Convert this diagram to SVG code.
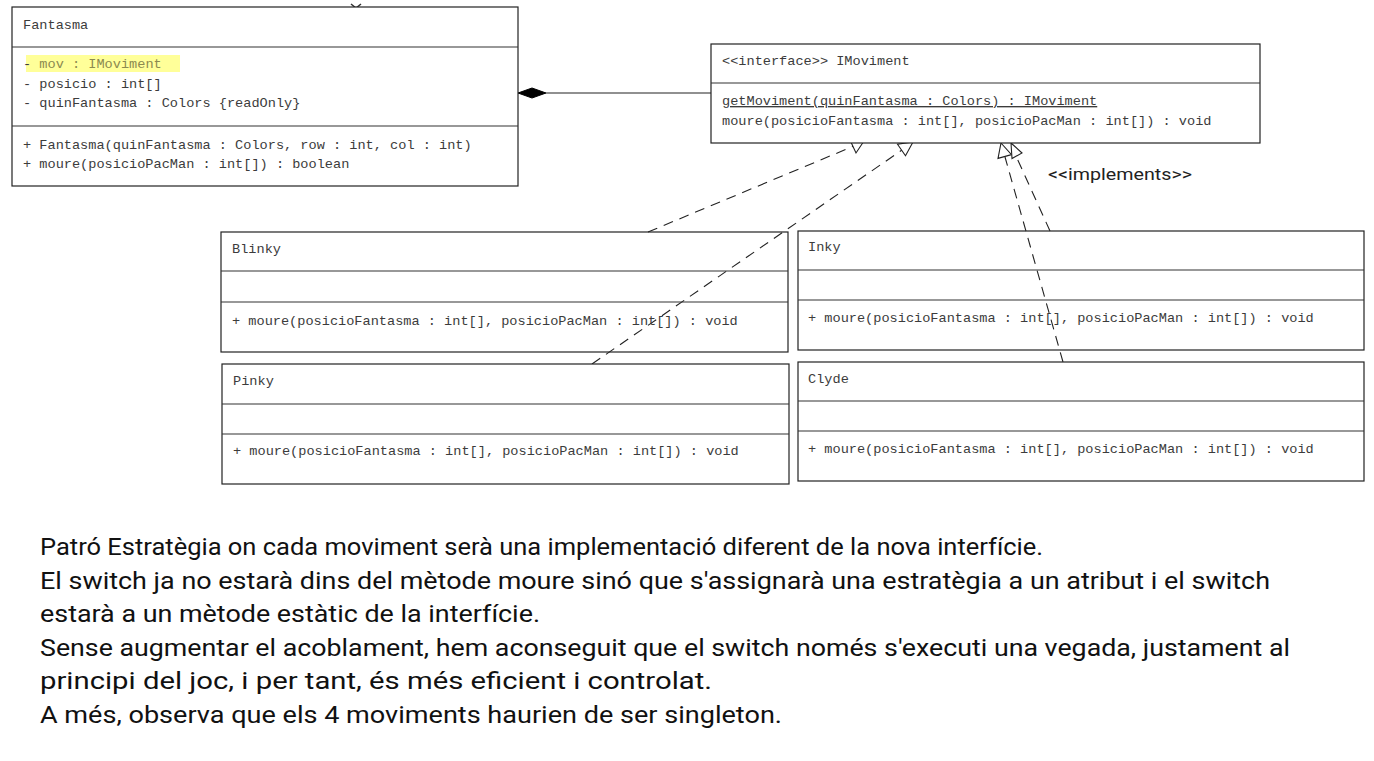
<svg xmlns="http://www.w3.org/2000/svg" width="1374" height="761" viewBox="0 0 1374 761">
<style>
.box{fill:#fff;stroke:#222;stroke-width:1.2}
.div{stroke:#333;stroke-width:1.2}
.m{font-family:"Liberation Mono","Courier New",monospace;font-size:13.6px;fill:#3c3c3c}
.conn{fill:none;stroke:#222;stroke-width:1.1}
.dash{stroke-dasharray:10,7}
.tri{fill:#fff;stroke:#222;stroke-width:1.1}
.note{font-family:Roboto,"Liberation Sans",sans-serif;font-size:24px;fill:#111}
.lbl{font-family:Roboto,"Liberation Sans",sans-serif;font-size:17px;fill:#222}
</style>
<rect width="1374" height="761" fill="#fff"/>
<g id="connectors">
<line class="conn" x1="546" y1="93" x2="711" y2="93"/>
<polygon points="518,93 532,88 546,93 532,98" fill="#000" stroke="#000"/>
<line class="conn dash" x1="648" y1="232" x2="854" y2="146"/>
<polygon class="tri" points="864,141 856,153 850,140"/>
<line class="conn dash" x1="592" y1="364" x2="902" y2="150"/>
<polygon class="tri" points="913,142 905.5,155.8 897.5,144.2"/>
<line class="conn dash" x1="1063" y1="362" x2="1005" y2="157"/>
<polygon class="tri" points="1001,143 1011.5,154.6 998,158.4"/>
<line class="conn dash" x1="1050" y1="231" x2="1016" y2="156"/>
<polygon class="tri" points="1011,143 1022,153 1012,158.6"/>
<path d="M351,4 L356,8 L361,4" fill="none" stroke="#333" stroke-width="1.5"/>
<text class="lbl" x="1048" y="180" textLength="144" lengthAdjust="spacingAndGlyphs">&lt;&lt;implements&gt;&gt;</text>
</g>
<g id="Fantasma">
<rect class="box" x="12" y="7" width="506" height="179"/>
<line class="div" x1="12" y1="47" x2="518" y2="47"/>
<line class="div" x1="12" y1="126" x2="518" y2="126"/>
<text class="m" x="23" y="29">Fantasma</text>
<rect x="26" y="55" width="154" height="17" fill="#ffff99"/>
<text class="m" x="23" y="68">-<tspan fill="#8c8a50"> mov : IMoviment</tspan></text>
<text class="m" x="23" y="88">- posicio : int[]</text>
<text class="m" x="23" y="107">- quinFantasma : Colors {readOnly}</text>
<text class="m" x="23" y="149">+ Fantasma(quinFantasma : Colors, row : int, col : int)</text>
<text class="m" x="23" y="168">+ moure(posicioPacMan : int[]) : boolean</text>
</g>
<g id="IMoviment">
<rect class="box" x="711" y="44" width="549" height="99"/>
<line class="div" x1="711" y1="83" x2="1260" y2="83"/>
<text class="m" x="722" y="65">&lt;&lt;interface&gt;&gt; IMoviment</text>
<text class="m" x="722" y="105" text-decoration="underline">getMoviment(quinFantasma : Colors) : IMoviment</text>
<text class="m" x="722" y="125">moure(posicioFantasma : int[], posicioPacMan : int[]) : void</text>
</g>
<g id="Blinky">
<rect class="box" x="221" y="232" width="567" height="120" fill-opacity="0"/>
<line class="div" x1="221" y1="271" x2="788" y2="271"/>
<line class="div" x1="221" y1="302" x2="788" y2="302"/>
<text class="m" x="232" y="253">Blinky</text>
<text class="m" x="232" y="325">+ moure(posicioFantasma : int[], posicioPacMan : int[]) : void</text>
</g>
<g id="Pinky">
<rect class="box" x="222" y="364" width="567" height="120"/>
<line class="div" x1="222" y1="404" x2="789" y2="404"/>
<line class="div" x1="222" y1="434" x2="789" y2="434"/>
<text class="m" x="233" y="385">Pinky</text>
<text class="m" x="233" y="455">+ moure(posicioFantasma : int[], posicioPacMan : int[]) : void</text>
</g>
<g id="Inky">
<rect class="box" x="798" y="231" width="566" height="119" fill-opacity="0"/>
<line class="div" x1="798" y1="270" x2="1364" y2="270"/>
<line class="div" x1="798" y1="300" x2="1364" y2="300"/>
<text class="m" x="808" y="251">Inky</text>
<text class="m" x="808" y="322">+ moure(posicioFantasma : int[], posicioPacMan : int[]) : void</text>
</g>
<g id="Clyde">
<rect class="box" x="798" y="362" width="566" height="119"/>
<line class="div" x1="798" y1="401" x2="1364" y2="401"/>
<line class="div" x1="798" y1="431" x2="1364" y2="431"/>
<text class="m" x="808" y="383">Clyde</text>
<text class="m" x="808" y="453">+ moure(posicioFantasma : int[], posicioPacMan : int[]) : void</text>
</g>
<g id="notes">
<text class="note" x="40" y="555" textLength="1003" lengthAdjust="spacingAndGlyphs">Patró Estratègia on cada moviment serà una implementació diferent de la nova interfície.</text>
<text class="note" x="40" y="589" textLength="1230" lengthAdjust="spacingAndGlyphs">El switch ja no estarà dins del mètode moure sinó que s'assignarà una estratègia a un atribut i el switch</text>
<text class="note" x="40" y="622" textLength="500" lengthAdjust="spacingAndGlyphs">estarà a un mètode estàtic de la interfície.</text>
<text class="note" x="40" y="656" textLength="1250" lengthAdjust="spacingAndGlyphs">Sense augmentar el acoblament, hem aconseguit que el switch només s'executi una vegada, justament al</text>
<text class="note" x="40" y="689" textLength="672" lengthAdjust="spacingAndGlyphs">principi del joc, i per tant, és més eficient i controlat.</text>
<text class="note" x="40" y="723" textLength="742" lengthAdjust="spacingAndGlyphs">A més, observa que els 4 moviments haurien de ser singleton.</text>
</g>
</svg>
